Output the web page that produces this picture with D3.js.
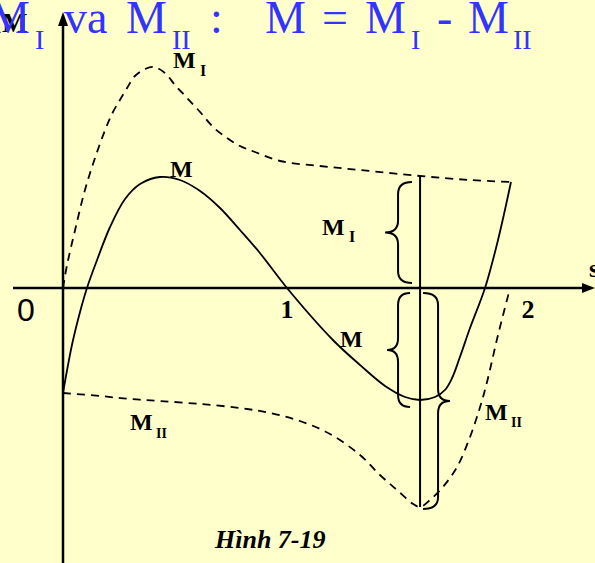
<!DOCTYPE html>
<html><head><meta charset="utf-8">
<script src="https://cdn.jsdelivr.net/npm/d3@7"></script>
<style>
html,body{margin:0;padding:0;background:#FFFFCC;overflow:hidden}
svg{display:block}
</style></head>
<body>
<svg id="chart" width="595" height="563"></svg>
<script>
// ---- data (s = slip, values in arbitrary torque units) ----
const MI_s   = [0,0.018,0.054,0.098,0.143,0.188,0.223,0.254,0.286,0.321,0.366,0.406,0.455,0.5,0.554,0.612,0.670,0.732,0.790,0.857,0.969,1.147,1.326,1.594,1.817,2.0];
const MI_v   = [0,0.23,0.58,0.98,1.30,1.58,1.76,1.88,2.00,2.12,2.19,2.21,2.15,2.03,1.90,1.76,1.61,1.50,1.42,1.36,1.27,1.22,1.18,1.12,1.08,1.06];
const M_s    = [0,0.040,0.076,0.107,0.152,0.210,0.277,0.344,0.433,0.522,0.612,0.701,0.790,0.879,1.0,1.205,1.326,1.438,1.527,1.594,1.661,1.705,1.737,1.772,1.817,1.884,1.942,2.0];
const M_v    = [-1.05,-0.57,-0.24,0,0.28,0.61,0.89,1.04,1.11,1.08,0.97,0.80,0.58,0.35,0,-0.52,-0.77,-0.98,-1.09,-1.12,-1.09,-1.02,-0.90,-0.69,-0.40,0,0.48,1.06];
const MII_s  = [0,0.165,0.299,0.433,0.612,0.790,0.924,1.058,1.192,1.326,1.415,1.491,1.563,1.594,1.638,1.696,1.759,1.817,1.862,1.893,1.942,1.996];
const MII_v  = [-1.05,-1.08,-1.11,-1.13,-1.16,-1.20,-1.25,-1.33,-1.46,-1.67,-1.87,-2.02,-2.16,-2.19,-2.12,-1.99,-1.79,-1.49,-1.19,-0.94,-0.47,0];
const sTicks = [0,1,2];
const tickLabels = ["0","1","2"];
const sCut = 1.594;           // slip where the three values are compared
const cutMI = 1.12, cutM = -1.12, cutMII = -2.19;

const svg = d3.select("#chart");
const W = 595, H = 563;
svg.append("rect").attr("width",W).attr("height",H).attr("fill","#FFFFCC");

const x = d3.scaleLinear().domain([0,2]).range([63,511]);
const y = d3.scaleLinear().domain([0,1]).range([288,188]);

const ink = "#000";
const line = d3.line().x(d=>x(d[0])).y(d=>y(d[1])).curve(d3.curveCatmullRom.alpha(0.5));
const zip = (a,b)=>a.map((v,i)=>[v,b[i]]);

// axes
svg.append("line").attr("x1",13).attr("x2",584).attr("y1",y(0)).attr("y2",y(0))
  .attr("stroke",ink).attr("stroke-width",2.5);
svg.append("path").attr("d",`M595,${y(0)} L582,${y(0)-5} L582,${y(0)+5} Z`).attr("fill",ink);
svg.append("line").attr("x1",x(0)).attr("x2",x(0)).attr("y1",H).attr("y2",24)
  .attr("stroke",ink).attr("stroke-width",2.5);
svg.append("path").attr("d",`M${x(0)},12 L${x(0)-5},26 L${x(0)+5},26 Z`).attr("fill",ink);

// curves
svg.append("path").attr("d",line(zip(MI_s,MI_v))).attr("fill","none")
  .attr("stroke",ink).attr("stroke-width",1.8).attr("stroke-dasharray","8,6");
svg.append("path").attr("d",line(zip(MII_s,MII_v))).attr("fill","none")
  .attr("stroke",ink).attr("stroke-width",1.8).attr("stroke-dasharray","8,6");
svg.append("path").attr("d",line(zip(M_s,M_v))).attr("fill","none")
  .attr("stroke",ink).attr("stroke-width",1.8);

// vertical comparison line
svg.append("line").attr("x1",x(sCut)).attr("x2",x(sCut)).attr("y1",y(cutMI)).attr("y2",y(cutMII))
  .attr("stroke",ink).attr("stroke-width",2);

// braces
function brace(y1,y2,xe,xs,xt){
  const ym=(y1+y2)/2, r=12;
  return `M${xe},${y1} Q${xs},${y1} ${xs},${y1+r} L${xs},${ym-r} Q${xs},${ym} ${xt},${ym} `+
         `Q${xs},${ym} ${xs},${ym+r} L${xs},${y2-r} Q${xs},${y2} ${xe},${y2}`;
}
const xc = x(sCut);
svg.append("path").attr("d",brace(y(cutMI)+6,y(0)-5,xc-8,xc-22,xc-35))
  .attr("fill","none").attr("stroke",ink).attr("stroke-width",2);
svg.append("path").attr("d",brace(y(0)+5,y(cutM)+7,xc-10,xc-22,xc-33))
  .attr("fill","none").attr("stroke",ink).attr("stroke-width",2);
svg.append("path").attr("d",brace(y(0)+5,y(cutMII)+2,xc+3,xc+18,xc+30))
  .attr("fill","none").attr("stroke",ink).attr("stroke-width",2);

// tick labels
const serif = "'Liberation Serif','Times New Roman',serif";
svg.append("text").attr("x",x(sTicks[0])-37).attr("y",321).attr("text-anchor","middle")
  .attr("font-family","'Liberation Sans',Arial,sans-serif").attr("font-size",32).text(tickLabels[0]);
svg.append("text").attr("x",x(sTicks[1])).attr("y",318).attr("text-anchor","middle")
  .attr("font-family",serif).attr("font-weight","bold").attr("font-size",26).text(tickLabels[1]);
svg.append("text").attr("x",x(sTicks[2])+17).attr("y",318).attr("text-anchor","middle")
  .attr("font-family",serif).attr("font-weight","bold").attr("font-size",26).text(tickLabels[2]);

// black labels
function lab(tx,ty,main,sub,fs,ss,dx,dy){
  svg.append("text").attr("x",tx).attr("y",ty).attr("font-family",serif)
    .attr("font-weight","bold").attr("font-size",fs).attr("fill",ink).text(main);
  if(sub){
    svg.append("text").attr("x",tx+dx).attr("y",ty+dy).attr("font-family",serif)
      .attr("font-weight","bold").attr("font-size",ss).attr("fill",ink).text(sub);
  }
}
lab(2,32,"M",null,27);
lab(589,277,"s",null,26);
lab(173,68,"M","I",24,16,27,8);
lab(170,177,"M",null,24);
lab(322,235,"M","I",24,16,27,7);
lab(340,347,"M",null,24);
lab(130,430,"M","II",24,14,26,8);
lab(485,420,"M","II",24,14,26,7);

svg.append("text").attr("x",215).attr("y",548).attr("font-family",serif)
  .attr("font-weight","bold").attr("font-style","italic").attr("font-size",26).text("Hình 7-19");

// blue title
const blue = "#3333FF";
const titleParts = [
  ["M",-11,33,46],["I",35,49,28],["va",64,33,46],["M",126,33,46],["II",172,49,28],
  [":",210,33,46],["M",265,33,46],["=",322,33,46],["M",365,33,46],["I",411,49,28],
  ["-",437,33,46],["M",468,33,46],["II",513,49,28]
];
svg.selectAll("text.title").data(titleParts).enter().append("text").attr("class","title")
  .attr("x",d=>d[1]).attr("y",d=>d[2]).attr("font-size",d=>d[3])
  .attr("font-family",serif).attr("fill",blue).text(d=>d[0]);
</script>
</body></html>
